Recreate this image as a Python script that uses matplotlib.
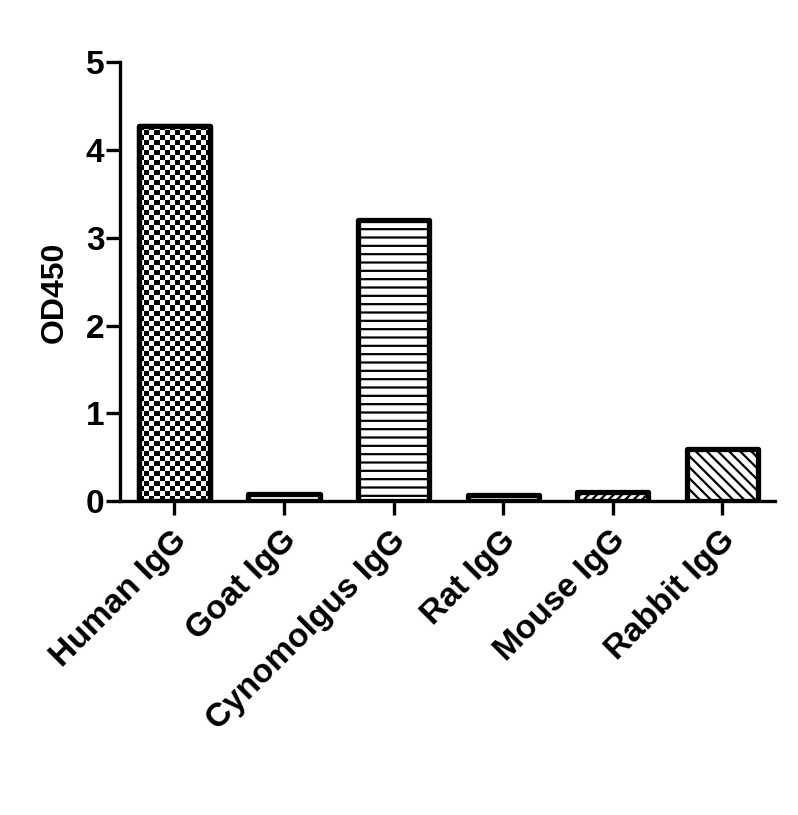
import numpy as np
import matplotlib
import matplotlib.pyplot as plt
from matplotlib.transforms import ScaledTranslation

matplotlib.use('Agg')

# data
categories = ["Human IgG", "Goat IgG", "Cynomolgus IgG", "Rat IgG", "Mouse IgG", "Rabbit IgG"]
od450 = [4.27, 0.08, 3.20, 0.07, 0.11, 0.60]
hatches = [None, '--', '--', '--', '////', '\\\\\\']

plt.rcParams['font.family'] = ['Liberation Sans', 'DejaVu Sans']
plt.rcParams['font.weight'] = 'bold'
plt.rcParams['hatch.linewidth'] = 1.6

fig = plt.figure(figsize=(7.98, 8.15), dpi=100)
ax = fig.add_axes([0.150, 0.385, 0.821, 0.539])

x = np.arange(len(categories))
width = 0.65
ax.set_xlim(-0.5, len(categories) - 0.52)
ax.set_ylim(0, 5)

bars = ax.bar(x, od450, width=width, color='white', edgecolor='black',
              linewidth=3.8, zorder=2)
for bar, h in zip(bars, hatches):
    bar.set_joinstyle('round')
    if h:
        bar.set_hatch(h)

# checkerboard fill for the first bar
b = bars[0]
x0, y0 = b.get_x(), b.get_y()
x1, y1 = x0 + b.get_width(), y0 + b.get_height()
p0 = ax.transData.transform((x0, y0))
p1 = ax.transData.transform((x1, y1))
cell = 5.0
nx = max(1, int(round((p1[0] - p0[0]) / cell)))
ny = max(1, int(round((p1[1] - p0[1]) / cell)))
checker = (np.indices((ny, nx)).sum(axis=0) % 2).astype(float)
im = ax.imshow(checker, cmap='gray', extent=(x0, x1, y0, y1), aspect='auto',
               interpolation='nearest', zorder=2.5, origin='lower')
im.set_clip_path(b)
edge = ax.bar(x[:1], od450[:1], width=width, color='none', edgecolor='black',
              linewidth=3.8, zorder=3)
edge[0].set_joinstyle('round')

for side in ['top', 'right']:
    ax.spines[side].set_visible(False)
for side in ['left', 'bottom']:
    ax.spines[side].set_linewidth(2.4)

ax.set_yticks([0, 1, 2, 3, 4, 5])
ax.tick_params(axis='both', width=2.4, length=10, labelsize=24)
ax.tick_params(axis='y', pad=1)
ax.tick_params(axis='x', pad=12)
ax.set_xticks(x)
ax.set_xticklabels(categories, rotation=45, ha='right', va='center',
                   rotation_mode='anchor', fontsize=24, fontweight='bold')
shift = ScaledTranslation(8 / 100, -4 / 100, fig.dpi_scale_trans)
for lbl in ax.get_xticklabels():
    lbl.set_transform(lbl.get_transform() + shift)
for lbl in ax.get_yticklabels():
    lbl.set_fontweight('bold')
ax.set_ylabel('OD450', fontsize=23, fontweight='bold')
ax.yaxis.set_label_coords(-0.076, 0.476)

fig.savefig('out.png', dpi=100)
